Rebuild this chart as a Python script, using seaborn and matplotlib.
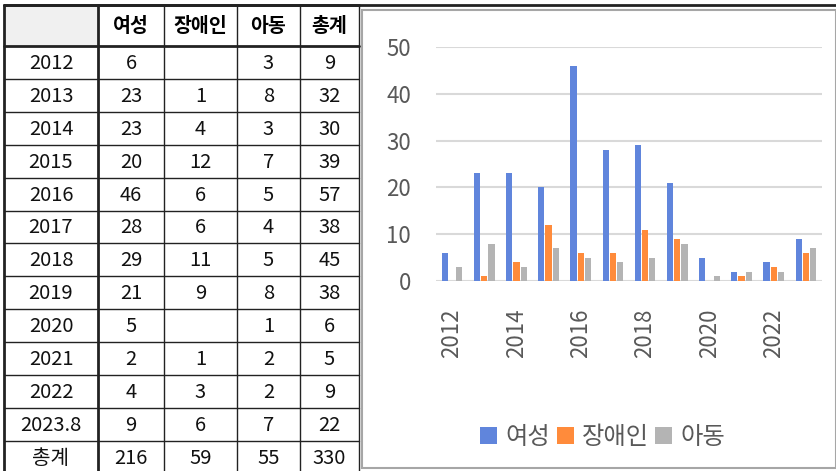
import numpy as np
import pandas as pd
import matplotlib
matplotlib.use("Agg")
import matplotlib.pyplot as plt
from matplotlib.patches import Rectangle
import seaborn as sns

years = ["2012", "2013", "2014", "2015", "2016", "2017", "2018", "2019",
         "2020", "2021", "2022", "2023.8"]
women = [6, 23, 23, 20, 46, 28, 29, 21, 5, 2, 4, 9]
disabled = [None, 1, 4, 12, 6, 6, 11, 9, None, 1, 3, 6]
children = [3, 8, 3, 7, 5, 4, 5, 8, 1, 2, 2, 7]
row_totals = [9, 32, 30, 39, 57, 38, 45, 38, 6, 5, 9, 22]
groups = ["여성", "장애인", "아동"]
header = ["", "여성", "장애인", "아동", "총계"]
total_row = ["총계", "216", "59", "55", "330"]
colors = ["#6085DC", "#FF8B3B", "#B4B4B4"]

sns.set_style("white")
plt.rcParams["font.family"] = ["Noto Sans CJK KR", "DejaVu Sans"]

W, H = 837, 471
fig = plt.figure(figsize=(W / 100, H / 100), dpi=100)

# background axes in pixel units for the table and the chart frame
bg = fig.add_axes([0, 0, 1, 1])
bg.set_xlim(0, W)
bg.set_ylim(H, 0)
bg.axis("off")

col_x = [4, 98, 164, 237, 300, 359]
row_y = [5, 46] + [46 + 32.9 * (i + 1) for i in range(13)]

bg.add_patch(Rectangle((col_x[0], row_y[0]), col_x[1] - col_x[0],
                       row_y[1] - row_y[0], color="#F0F0F0", lw=0))

rows = [header]
for i, y in enumerate(years):
    d = "" if disabled[i] is None else str(disabled[i])
    rows.append([y, str(women[i]), d, str(children[i]), str(row_totals[i])])
rows.append(total_row)

for r, cells in enumerate(rows):
    yc = (row_y[r] + row_y[r + 1]) / 2
    for c, txt in enumerate(cells):
        xc = (col_x[c] + col_x[c + 1]) / 2
        if r == 0:
            bg.text(xc, yc + 1, txt, ha="center", va="center", fontsize=14,
                    fontweight="bold", color="black")
        else:
            bg.text(xc, yc + 1, txt, ha="center", va="center", fontsize=14.5,
                    color="#111111")

for i, y in enumerate(row_y):
    lw = 2 if i in (0, 1) else 1
    bg.plot([col_x[0], col_x[-1]], [y, y], color="#222222", lw=lw)
for i, x in enumerate(col_x):
    lw = 2 if i in (0, 1) else 1
    bg.plot([x, x], [row_y[0], H], color="#222222", lw=lw)
bg.plot([col_x[0], W], [5, 5], color="#222222", lw=2)

# chart frame
bg.add_patch(Rectangle((362, 10), 474, 458, fill=False, edgecolor="#A6A6A6", lw=1.5))

# bar chart
df = pd.DataFrame({"year": years * 3,
                   "group": np.repeat(groups, len(years)),
                   "value": women + disabled + children})
df["value"] = pd.to_numeric(df["value"])

ax = fig.add_axes([436 / W, 1 - 281 / H, 386 / W, 234 / H])
sns.barplot(data=df, x="year", y="value", hue="group", hue_order=groups,
            order=years, palette=colors, saturation=1, width=0.68, gap=0.15,
            linewidth=0, ax=ax)
ax.set_ylim(0, 50)
ax.set_xlim(-0.5, len(years) - 0.5)
ax.set_yticks([0, 10, 20, 30, 40, 50])
ax.yaxis.grid(True, color="#D9D9D9", lw=1.5)
ax.set_axisbelow(True)
sns.despine(ax=ax, left=True, bottom=True)
ax.set_xticks(range(0, len(years), 2))
ax.set_xticklabels(years[::2], rotation=90)
ax.tick_params(axis="x", length=0, pad=20, labelsize=16, labelcolor="#595959")
ax.tick_params(axis="y", length=0, pad=18, labelsize=16, labelcolor="#595959")
ax.set_xlabel("")
ax.set_ylabel("")

handles, labels = ax.get_legend_handles_labels()
ax.legend(handles, labels, loc="center", bbox_to_anchor=(603 / W, 1 - 437 / H),
          bbox_transform=fig.transFigure, ncol=3, frameon=False, fontsize=17.5,
          handlelength=0.7, handleheight=0.7, handletextpad=0.35,
          columnspacing=0.25, labelcolor="#595959")

fig.savefig("out.png", dpi=100)
